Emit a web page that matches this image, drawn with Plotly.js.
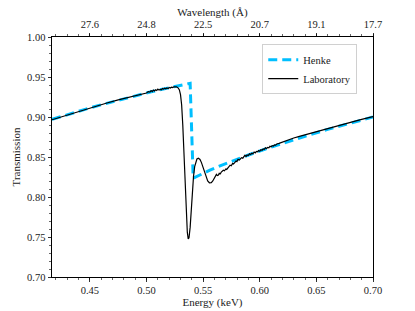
<!DOCTYPE html>
<html>
<head>
<meta charset="utf-8">
<script src="https://cdn.plot.ly/plotly-3.0.1.min.js"></script>
<style>html,body{margin:0;padding:0;background:#fff;}#chart{width:415px;height:311px;}</style>
</head>
<body>
<div id="chart"></div>
<script>
// Henke tabulated transmission
const henkeE = [0.4165, 0.430, 0.445, 0.460, 0.475, 0.490, 0.505, 0.520, 0.530, 0.5385,
                0.5412, 0.548, 0.556, 0.566, 0.578, 0.590, 0.605, 0.620, 0.640, 0.660, 0.680, 0.700];
const henkeT = [0.8970, 0.9030, 0.9093, 0.9153, 0.9210, 0.9265, 0.9318, 0.9365, 0.9395, 0.9422,
                0.8235, 0.8282, 0.8335, 0.8395, 0.8462, 0.8525, 0.8600, 0.8670, 0.8760, 0.8845, 0.8925, 0.9000];

// Laboratory measurement
const labE = [0.4165, 0.425, 0.435, 0.445, 0.455, 0.465, 0.475, 0.485, 0.490, 0.4935,
  0.496, 0.498, 0.500, 0.5015, 0.503, 0.504, 0.505, 0.506, 0.507, 0.508,
  0.509, 0.510, 0.511, 0.512, 0.513, 0.514, 0.515, 0.516, 0.517, 0.518,
  0.519, 0.520, 0.521, 0.522, 0.523, 0.524, 0.525, 0.5265, 0.528, 0.529,
  0.530, 0.531, 0.532, 0.533, 0.534, 0.535, 0.536, 0.5368, 0.5375, 0.5385,
  0.5395, 0.5405, 0.5415, 0.5425, 0.5435, 0.5445, 0.5458, 0.5472, 0.5485, 0.5498,
  0.551, 0.5525, 0.554, 0.5555, 0.5572, 0.5585, 0.5598, 0.561, 0.5617, 0.5625,
  0.5635, 0.5642, 0.5652, 0.566, 0.5668, 0.5678, 0.5688, 0.570, 0.5708, 0.5718,
  0.573, 0.5738, 0.5748, 0.576, 0.5768, 0.5778, 0.579, 0.5798, 0.5808, 0.582,
  0.5828, 0.5838, 0.585, 0.5858, 0.5868, 0.588, 0.5888, 0.5898, 0.591, 0.592,
  0.593, 0.594, 0.595, 0.596, 0.597, 0.598, 0.599, 0.600, 0.601, 0.602,
  0.603, 0.604, 0.605, 0.606, 0.607, 0.608, 0.609, 0.610, 0.611, 0.612,
  0.613, 0.614, 0.615, 0.617, 0.619, 0.621, 0.623, 0.625, 0.627, 0.630,
  0.635, 0.640, 0.645, 0.650, 0.655, 0.660, 0.665, 0.670, 0.675, 0.680,
  0.685, 0.690, 0.695, 0.700];
const labT = [0.8965, 0.9003, 0.9048, 0.9092, 0.9135, 0.9175, 0.9215, 0.9252, 0.9268, 0.9283,
  0.9290, 0.9302, 0.9300, 0.9318, 0.9312, 0.9330, 0.9318, 0.9336, 0.9325, 0.9340,
  0.9332, 0.9348, 0.9336, 0.9345, 0.9340, 0.9355, 0.9348, 0.9360, 0.9352, 0.9362,
  0.9355, 0.9368, 0.9362, 0.9372, 0.9368, 0.9376, 0.9380, 0.9378, 0.9362, 0.9338,
  0.9280, 0.9150, 0.8900, 0.8550, 0.8150, 0.7800, 0.7560, 0.7475, 0.7490, 0.7620,
  0.7850, 0.8080, 0.8260, 0.8380, 0.8445, 0.8475, 0.8485, 0.8470, 0.8430, 0.8375,
  0.8315, 0.8250, 0.8200, 0.8178, 0.8180, 0.8200, 0.8232, 0.8262, 0.8282, 0.8268,
  0.8275, 0.8296, 0.8290, 0.8312, 0.8318, 0.8335, 0.8328, 0.8350, 0.8345, 0.8368,
  0.8380, 0.8398, 0.8390, 0.8420, 0.8412, 0.8438, 0.8450, 0.8442, 0.8470, 0.8462,
  0.8480, 0.8492, 0.8485, 0.8505, 0.8520, 0.8508, 0.8525, 0.8518, 0.8540, 0.8532,
  0.8548, 0.8540, 0.8562, 0.8552, 0.8570, 0.8565, 0.8580, 0.8572, 0.8592, 0.8585,
  0.8600, 0.8595, 0.8614, 0.8606, 0.8620, 0.8615, 0.8634, 0.8628, 0.8642, 0.8638,
  0.8652, 0.8648, 0.8662, 0.8670, 0.8682, 0.8690, 0.8702, 0.8712, 0.8722, 0.8738,
  0.8758, 0.8778, 0.8797, 0.8815, 0.8838, 0.8860, 0.8880, 0.8900, 0.8918, 0.8935,
  0.8952, 0.8970, 0.8988, 0.9005];

// Axis ticks
const energyTicks = [0.45, 0.50, 0.55, 0.60, 0.65, 0.70];
const wavelengthLabels = ['27.6', '24.8', '22.5', '20.7', '19.1', '17.7'];
const xRange = [0.4165, 0.70];
const yRange = [0.70, 1.00];

const FONT = 'Liberation Serif, DejaVu Serif, serif';

const traces = [
  {x: henkeE, y: henkeT, type: 'scatter', mode: 'lines', name: 'Henke',
   line: {color: '#00bfff', width: 3, dash: '9px,5px'}},
  {x: labE, y: labT, type: 'scatter', mode: 'lines', name: 'Laboratory',
   line: {color: '#000000', width: 1.2}},
  {x: xRange, y: [null, null], type: 'scatter', mode: 'lines', xaxis: 'x2',
   showlegend: false, hoverinfo: 'skip'}
];

const axCommon = {
  showgrid: false, zeroline: false, showline: true, linecolor: '#000', linewidth: 1,
  ticks: 'outside', ticklen: 3.5, tickwidth: 0.8, tickcolor: '#000',
  tickfont: {family: FONT, size: 10.5, color: '#222'}
};

const layout = {
  width: 415, height: 311,
  margin: {l: 52, r: 42, t: 37, b: 34},
  paper_bgcolor: '#fff', plot_bgcolor: '#fff',
  font: {family: FONT, size: 10.5, color: '#222'},
  showlegend: true,
  legend: {x: 0.655, y: 0.97, xanchor: 'left', yanchor: 'top', itemwidth: 30,
           bgcolor: 'rgba(255,255,255,0.9)', bordercolor: '#d0d0d0', borderwidth: 1,
           font: {family: FONT, size: 10.5, color: '#222'}, tracegroupgap: 0},
  xaxis: Object.assign({}, axCommon, {
    range: xRange, tickmode: 'array', tickvals: energyTicks, tickformat: '.2f',
    minor: {dtick: 0.01, tick0: 0.40, ticks: 'outside', ticklen: 2, tickcolor: '#000', tickwidth: 0.6},
    title: {text: 'Energy (keV)', font: {family: FONT, size: 11, color: '#222'}, standoff: 2}
  }),
  xaxis2: Object.assign({}, axCommon, {
    range: xRange, overlaying: 'x', side: 'top', tickmode: 'array',
    tickvals: energyTicks, ticktext: wavelengthLabels,
    minor: {dtick: 0.01, tick0: 0.40, ticks: 'outside', ticklen: 2, tickcolor: '#000', tickwidth: 0.6},
    title: {text: 'Wavelength (Å)', font: {family: FONT, size: 11, color: '#222'}, standoff: 0}
  }),
  yaxis: Object.assign({}, axCommon, {
    range: yRange, dtick: 0.05, tick0: 0.70, tickformat: '.2f', mirror: true,
    minor: {dtick: 0.01, ticks: 'outside', ticklen: 2, tickcolor: '#000', tickwidth: 0.6},
    title: {text: 'Transmission', font: {family: FONT, size: 11, color: '#222'}, standoff: 4}
  })
};

Plotly.newPlot('chart', traces, layout, {displayModeBar: false, staticPlot: true});
</script>
</body>
</html>
